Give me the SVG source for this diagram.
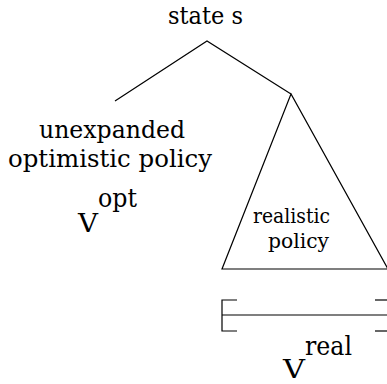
<svg xmlns="http://www.w3.org/2000/svg" width="387" height="384" viewBox="0 0 387 384">
<style>
.l{stroke:#000;stroke-width:1.2;fill:none}
</style>
<rect width="387" height="384" fill="#fff"/>
<g id="connectors">
<polyline class="l" points="115,101 207,41 291,94"/>
</g>
<g font-family="'DejaVu Serif', 'Liberation Serif', Times, serif" fill="#000">
<g id="state">
<text x="168" y="24" font-size="25" textLength="75" lengthAdjust="spacingAndGlyphs">state s</text>
</g>
<g id="unexpanded">
<text x="39" y="138" font-size="25" textLength="146" lengthAdjust="spacingAndGlyphs">unexpanded</text>
<text x="8" y="167" font-size="25" textLength="204" lengthAdjust="spacingAndGlyphs">optimistic policy</text>
<text x="78" y="232" font-size="26" textLength="20" lengthAdjust="spacingAndGlyphs">V</text>
<text x="98" y="207" font-size="26" textLength="39" lengthAdjust="spacingAndGlyphs">opt</text>
</g>
<g id="realistic">
<polygon class="l" points="291,94 222,269 388,269"/>
<text x="253" y="223" font-size="21" textLength="77" lengthAdjust="spacingAndGlyphs">realistic</text>
<text x="268" y="248" font-size="21" textLength="61" lengthAdjust="spacingAndGlyphs">policy</text>
</g>
<g id="range">
<polyline class="l" points="237,300 222,300 222,331 237,331"/>
<line class="l" x1="222" y1="315" x2="387" y2="315"/>
<line class="l" x1="375" y1="300" x2="387" y2="300"/>
<line class="l" x1="375" y1="331" x2="387" y2="331"/>
<text x="283" y="378" font-size="26" textLength="22" lengthAdjust="spacingAndGlyphs">V</text>
<text x="305" y="355" font-size="26" textLength="47" lengthAdjust="spacingAndGlyphs">real</text>
</g>
</g>
</svg>
